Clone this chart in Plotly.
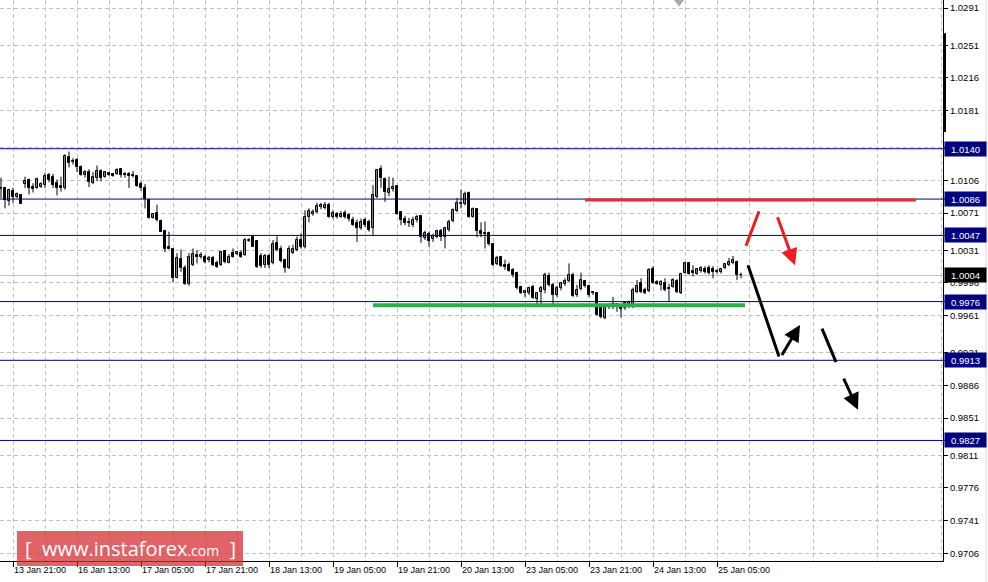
import plotly.graph_objects as go

# ---------------- data (H1 candles) ----------------
opens = [1.0097,1.0098,1.0084,1.0095,1.0088,1.0090,1.0102,1.0107,1.0099,1.0098,
         1.0099,1.0101,1.0112,1.0110,1.0103,1.0100,1.0098,1.0131,1.0127,1.0128,
         1.0120,1.0112,1.0115,1.0103,1.0109,1.0116,1.0110,1.0114,1.0113,1.0113,
         1.0118,1.0113,1.0113,1.0112,1.0111,1.0102,1.0098,1.0085,1.0066,1.0071,
         1.0062,1.0052,1.0035,1.0032,1.0001,1.0022,1.0012,0.9995,1.0015,1.0026,
         1.0024,1.0024,1.0021,1.0023,1.0017,1.0015,1.0030,1.0017,1.0028,1.0027,
         1.0028,1.0026,1.0041,1.0045,1.0041,1.0025,1.0015,1.0025,1.0017,1.0039,
         1.0032,1.0021,1.0012,1.0028,1.0031,1.0042,1.0035,1.0067,1.0070,1.0072,
         1.0077,1.0076,1.0080,1.0067,1.0070,1.0067,1.0071,1.0069,1.0064,1.0060,
         1.0055,1.0064,1.0061,1.0055,1.0088,1.0118,1.0108,1.0093,1.0097,1.0100,
         1.0072,1.0065,1.0060,1.0058,1.0064,1.0068,1.0044,1.0049,1.0043,1.0045,
         1.0052,1.0045,1.0053,1.0062,1.0073,1.0081,1.0081,1.0093,1.0067,1.0075,
         1.0052,1.0050,1.0050,1.0038,1.0016,1.0024,1.0015,1.0015,1.0010,1.0007,
         0.9992,0.9985,0.9985,0.9992,0.9979,0.9986,0.9988,1.0003,0.9994,0.9983,
         0.9991,0.9995,0.9998,1.0005,0.9983,0.9989,0.9998,0.9993,0.9986,0.9985,
         0.9971,0.9958,0.9972,0.9973,0.9973,0.9970,0.9969,0.9971,0.9970,0.9986,
         0.9996,0.9988,0.9987,1.0011,0.9997,0.9994,0.9996,0.9991,0.9992,0.9998,
         0.9985,1.0007,1.0017,1.0009,1.0006,1.0009,1.0011,1.0012,1.0011,1.0009,
         1.0008,1.0012,1.0015,1.0017,1.0018,1.0005]
highs = [1.0109,1.0099,1.0097,1.0098,1.0093,1.0091,1.0110,1.0108,1.0103,1.0109,
         1.0104,1.0114,1.0114,1.0113,1.0107,1.0110,1.0134,1.0137,1.0130,1.0130,
         1.0122,1.0117,1.0118,1.0115,1.0122,1.0118,1.0116,1.0115,1.0114,1.0119,
         1.0119,1.0115,1.0115,1.0116,1.0111,1.0105,1.0102,1.0086,1.0071,1.0080,
         1.0064,1.0053,1.0051,1.0032,1.0028,1.0032,1.0015,1.0028,1.0033,1.0031,
         1.0029,1.0026,1.0025,1.0025,1.0020,1.0030,1.0031,1.0027,1.0033,1.0030,
         1.0031,1.0044,1.0044,1.0047,1.0042,1.0028,1.0027,1.0027,1.0042,1.0046,
         1.0036,1.0022,1.0036,1.0037,1.0046,1.0049,1.0074,1.0076,1.0075,1.0082,
         1.0082,1.0083,1.0082,1.0074,1.0072,1.0073,1.0074,1.0071,1.0067,1.0064,
         1.0065,1.0066,1.0064,1.0101,1.0118,1.0122,1.0109,1.0110,1.0109,1.0101,
         1.0073,1.0068,1.0066,1.0067,1.0069,1.0068,1.0052,1.0051,1.0049,1.0053,
         1.0054,1.0056,1.0064,1.0076,1.0087,1.0096,1.0094,1.0094,1.0077,1.0076,
         1.0061,1.0062,1.0051,1.0039,1.0025,1.0025,1.0021,1.0018,1.0012,1.0008,
         0.9993,0.9988,0.9992,0.9994,0.9986,0.9993,1.0007,1.0007,0.9996,0.9993,
         0.9997,1.0001,1.0017,1.0007,0.9994,1.0007,0.9999,0.9994,0.9987,0.9986,
         0.9972,0.9971,0.9974,0.9981,0.9974,0.9972,0.9976,0.9977,0.9991,0.9999,
         1.0001,0.9991,1.0012,1.0014,0.9999,0.9999,1.0001,0.9995,1.0001,1.0000,
         1.0007,1.0018,1.0018,1.0015,1.0012,1.0014,1.0014,1.0015,1.0014,1.0011,
         1.0012,1.0017,1.0023,1.0025,1.0020,1.0007]
lows  = [1.0087,1.0076,1.0079,1.0082,1.0087,1.0081,1.0098,1.0091,1.0093,1.0097,
         1.0098,1.0098,1.0104,1.0098,1.0090,1.0094,1.0096,1.0120,1.0123,1.0115,
         1.0111,1.0109,1.0099,1.0102,1.0105,1.0105,1.0109,1.0111,1.0110,1.0112,
         1.0109,1.0109,1.0098,1.0109,1.0099,1.0095,1.0076,1.0065,1.0065,1.0062,
         1.0051,1.0029,1.0032,0.9997,1.0001,1.0008,0.9994,0.9993,1.0014,1.0017,
         1.0022,1.0017,1.0018,1.0014,1.0012,1.0014,1.0017,1.0017,1.0023,1.0026,
         1.0023,1.0025,1.0040,1.0035,1.0012,1.0012,1.0012,1.0012,1.0016,1.0030,
         1.0018,1.0007,1.0011,1.0027,1.0030,1.0033,1.0033,1.0061,1.0068,1.0071,
         1.0075,1.0075,1.0066,1.0065,1.0065,1.0066,1.0065,1.0062,1.0057,1.0040,
         1.0053,1.0056,1.0051,1.0047,1.0087,1.0098,1.0083,1.0089,1.0094,1.0069,
         1.0058,1.0058,1.0056,1.0056,1.0061,1.0039,1.0042,1.0035,1.0040,1.0044,
         1.0041,1.0033,1.0051,1.0061,1.0072,1.0076,1.0079,1.0066,1.0066,1.0045,
         1.0045,1.0033,1.0036,1.0014,1.0015,1.0013,1.0010,1.0008,1.0002,0.9989,
         0.9984,0.9981,0.9983,0.9979,0.9973,0.9973,0.9985,0.9992,0.9973,0.9981,
         0.9988,0.9993,0.9997,0.9981,0.9981,0.9988,0.9991,0.9981,0.9983,0.9961,
         0.9958,0.9957,0.9968,0.9968,0.9965,0.9959,0.9967,0.9969,0.9969,0.9985,
         0.9985,0.9984,0.9986,0.9995,0.9994,0.9988,0.9987,0.9976,0.9991,0.9985,
         0.9984,1.0006,1.0005,1.0003,1.0005,1.0007,1.0006,1.0005,1.0001,1.0006,
         1.0006,1.0011,1.0014,1.0016,0.9999,1.0001]
closes = [1.0098,1.0085,1.0096,1.0088,1.0091,1.0081,1.0105,1.0098,1.0097,1.0108,
          1.0102,1.0111,1.0107,1.0101,1.0098,1.0098,1.0132,1.0125,1.0126,1.0120,
          1.0112,1.0115,1.0104,1.0110,1.0116,1.0109,1.0115,1.0112,1.0111,1.0117,
          1.0112,1.0112,1.0111,1.0111,1.0100,1.0098,1.0086,1.0066,1.0070,1.0064,
          1.0051,1.0032,1.0032,1.0001,1.0023,1.0012,0.9995,1.0024,1.0027,1.0024,
          1.0026,1.0018,1.0023,1.0015,1.0013,1.0029,1.0018,1.0024,1.0024,1.0029,
          1.0024,1.0042,1.0042,1.0035,1.0013,1.0014,1.0025,1.0015,1.0038,1.0031,
          1.0020,1.0012,1.0032,1.0032,1.0042,1.0035,1.0067,1.0073,1.0072,1.0079,
          1.0080,1.0080,1.0067,1.0071,1.0067,1.0070,1.0067,1.0065,1.0058,1.0055,
          1.0061,1.0058,1.0053,1.0090,1.0117,1.0109,1.0094,1.0097,1.0099,1.0070,
          1.0064,1.0060,1.0061,1.0064,1.0067,1.0045,1.0050,1.0041,1.0046,1.0052,
          1.0045,1.0055,1.0061,1.0074,1.0082,1.0082,1.0091,1.0067,1.0075,1.0052,
          1.0049,1.0049,1.0038,1.0015,1.0023,1.0014,1.0013,1.0009,1.0005,0.9991,
          0.9985,0.9987,0.9991,0.9980,0.9985,0.9991,1.0005,0.9994,0.9983,0.9991,
          0.9996,0.9998,1.0005,0.9982,0.9988,0.9999,0.9993,0.9983,0.9985,0.9962,
          0.9959,0.9970,0.9970,0.9972,0.9970,0.9968,0.9974,0.9976,0.9988,0.9993,
          0.9986,0.9985,1.0010,0.9996,0.9995,0.9997,0.9988,0.9989,0.9999,0.9986,
          1.0006,1.0017,1.0006,1.0007,1.0011,1.0012,1.0008,1.0007,1.0008,1.0008,
          1.0011,1.0016,1.0018,1.0021,1.0005,1.0004]
bars = list(range(len(closes)))

time_labels = ["13 Jan 21:00", "16 Jan 13:00", "17 Jan 05:00", "17 Jan 21:00",
               "18 Jan 13:00", "19 Jan 05:00", "19 Jan 21:00", "20 Jan 13:00",
               "23 Jan 05:00", "23 Jan 21:00", "24 Jan 13:00", "25 Jan 05:00"]
time_label_bars = [3 + 16 * i for i in range(len(time_labels))]
minor_grid_bars = [11 + 16 * i for i in range(15)]

price_grid = [1.0291, 1.0251, 1.0216, 1.0181, 1.0141, 1.0106, 1.0071, 1.0031,
              0.9996, 0.9961, 0.9921, 0.9886, 0.9851, 0.9811, 0.9776, 0.9741, 0.9706]
hidden_grid_labels = [1.0141]   # covered completely by the 1.0140 level box
levels = [1.0140, 1.0086, 1.0047, 0.9976, 0.9913, 0.9827]
current_price = 1.0004

resistance = dict(x0=146, x1=228.75, y=1.0085)   # red line
support = dict(x0=93, x1=186, y=0.9972)          # green line
# forecast path pieces: (x0, y0, x1, y1, colour, has_head)
forecast = [
    (186.25, 1.0036, 189.5, 1.0073, "#ee1c25", False),
    (194.0, 1.0068, 198.5, 1.0015, "#ee1c25", True),
    (186.75, 1.0015, 194.5, 0.9917, "black", False),
    (195.0, 0.9917, 199.75, 0.9951, "black", True),
    (205.25, 0.9947, 208.75, 0.9911, "black", False),
    (210.5, 0.9895, 214.25, 0.9860, "black", True),
]

X_RANGE = [-0.25, 235.5]
Y_RANGE = [0.969765, 1.02996]
GRID = "#c0c0c0"
NAVY = "#000080"

# ---- candles: wicks + bodies ----
wick_x, wick_y = [], []
for k, h, l in zip(bars, highs, lows):
    wick_x += [k, k, None]
    wick_y += [l, h, None]
body_base = [min(o, c) for o, c in zip(opens, closes)]
body_len = [max(abs(c - o), 0.00004) for o, c in zip(opens, closes)]
body_fill = ["white" if c > o else "black" for o, c in zip(opens, closes)]

fig = go.Figure()
fig.add_trace(go.Scatter(x=wick_x, y=wick_y, mode="lines",
                         line=dict(color="black", width=1), hoverinfo="skip",
                         showlegend=False))
fig.add_trace(go.Bar(x=bars, y=body_len, base=body_base, width=0.55,
                     marker=dict(color=body_fill, line=dict(color="black", width=1)),
                     hoverinfo="skip", showlegend=False))

# chart shift marker at the top
fig.add_trace(go.Scatter(x=[169.5], y=[Y_RANGE[1]], mode="markers",
                         marker=dict(symbol="triangle-down", size=13, color="#a8a8a8"),
                         hoverinfo="skip", showlegend=False, cliponaxis=True))

shapes = []
shapes.append(dict(type="line", xref="paper", x0=0, x1=1, yref="y", y0=current_price,
                   y1=current_price, line=dict(color="#c0c0c0", width=1), layer="below"))
for lv in levels:
    shapes.append(dict(type="line", xref="paper", x0=0, x1=1.004, yref="y", y0=lv, y1=lv,
                       line=dict(color=NAVY, width=1)))
shapes.append(dict(type="line", xref="x", yref="y", x0=resistance["x0"], x1=resistance["x1"],
                   y0=resistance["y"], y1=resistance["y"], line=dict(color="#ee2a2e", width=3)))
shapes.append(dict(type="line", xref="x", yref="y", x0=support["x0"], x1=support["x1"],
                   y0=support["y"], y1=support["y"], line=dict(color="#27b14a", width=4)))
for x0, y0, x1, y1, col, head in forecast:
    if not head:
        shapes.append(dict(type="line", xref="x", yref="y", x0=x0, y0=y0, x1=x1, y1=y1,
                           line=dict(color=col, width=3)))
shapes.append(dict(type="line", xref="paper", x0=1.0016, x1=1.0016, yref="y",
                   y0=1.0158, y1=1.0264, line=dict(color="black", width=3)))
shapes.append(dict(type="line", xref="paper", x0=1.0456, x1=1.0456, yref="paper",
                   y0=-0.04, y1=1, line=dict(color="#d6d6d6", width=1)))
shapes.append(dict(type="rect", xref="paper", yref="paper", x0=0.0180, x1=0.2577,
                   y0=-0.0089, y1=0.0535, fillcolor="rgba(214,48,52,0.75)",
                   line=dict(width=0), layer="above"))

annotations = []
for x0, y0, x1, y1, col, head in forecast:
    if head:
        annotations.append(dict(x=x1, y=y1, ax=x0, ay=y0, xref="x", yref="y",
                                axref="x", ayref="y", text="", showarrow=True,
                                arrowhead=2, arrowsize=1.1, arrowwidth=3, arrowcolor=col,
                                standoff=0, startstandoff=0))
for lv in levels + [current_price]:
    annotations.append(dict(xref="paper", x=1, xanchor="left", xshift=1, yref="y", y=lv,
                            text=f"{lv:.4f}", showarrow=False, width=39, height=12,
                            bgcolor="black" if lv == current_price else NAVY,
                            font=dict(family="Liberation Sans", size=9.5, color="white"),
                            borderpad=1))
annotations.append(dict(xref="paper", yref="paper", x=0.1379, y=0.0225, xanchor="center",
                        yanchor="middle", showarrow=False,
                        text="[  www.instaforex<span style='font-size:14px'>.com</span>  ]",
                        font=dict(family="Open Sans", size=20, color="white")))

fig.update_layout(
    width=988, height=582,
    margin=dict(l=0, r=45, t=0, b=21),
    paper_bgcolor="white", plot_bgcolor="white",
    showlegend=False, hovermode=False, bargap=0,
    shapes=shapes, annotations=annotations,
    xaxis=dict(range=X_RANGE,
               tickmode="array", tickvals=time_label_bars, ticktext=time_labels,
               ticklabelposition="outside right",
               ticks="outside", ticklen=5, tickcolor="black",
               tickfont=dict(family="Liberation Sans", size=9, color="black"),
               showgrid=True, gridcolor=GRID, griddash="4px,3px", gridwidth=1,
               minor=dict(tickmode="array", tickvals=minor_grid_bars, showgrid=True,
                          gridcolor=GRID, griddash="4px,3px", ticks=""),
               showline=True, linecolor="black", linewidth=1, zeroline=False,
               fixedrange=True),
    yaxis=dict(range=Y_RANGE, side="right", tickmode="array", tickvals=price_grid,
               ticktext=["" if v in hidden_grid_labels else f"{v:.4f}" for v in price_grid],
               ticks="outside", ticklen=4, tickcolor="black",
               tickfont=dict(family="Liberation Sans", size=9.5, color="black"),
               showgrid=True, gridcolor=GRID, griddash="4px,3px", gridwidth=1,
               showline=True, linecolor="black", linewidth=1, zeroline=False,
               fixedrange=True),
)

fig.write_html("out.html", config={"displayModeBar": False},
               post_script="document.body.style.margin='0px';document.body.style.overflow='hidden';")
